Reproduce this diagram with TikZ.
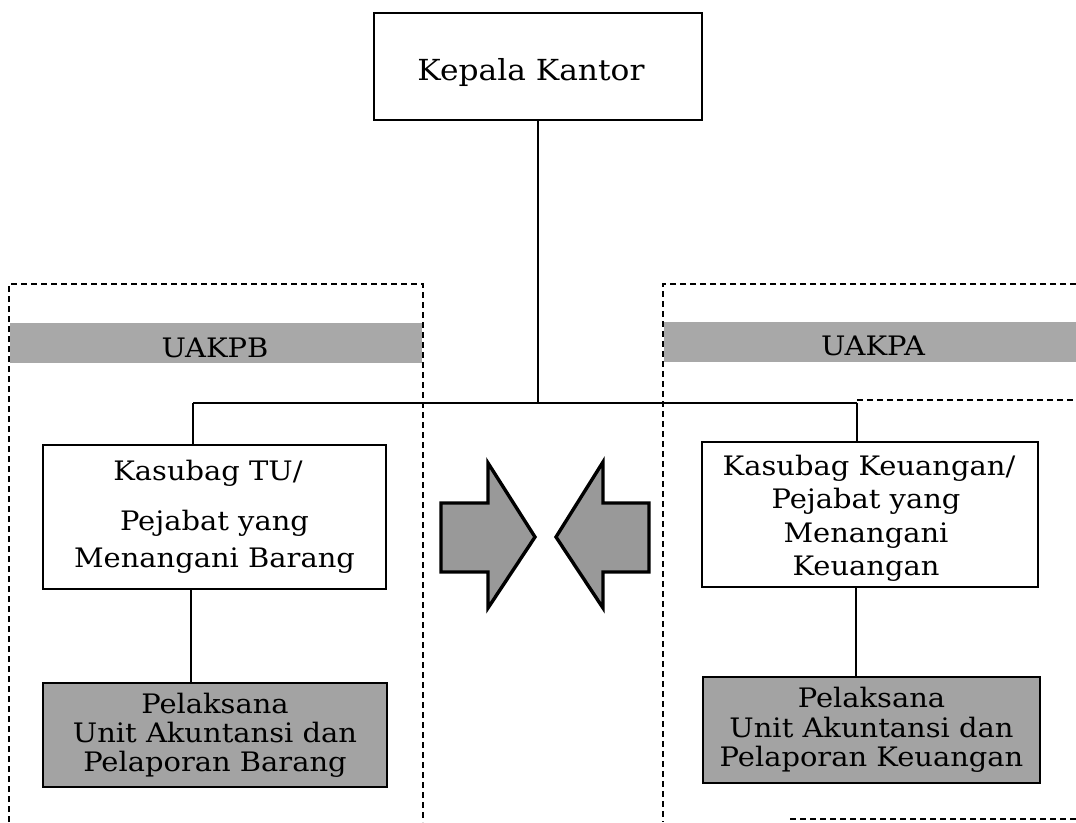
\documentclass[tikz,border=0pt]{standalone}
\usepackage{fontspec}
\setmainfont{DejaVu Serif}[FakeStretch=1.08]
\begin{document}
\begin{tikzpicture}[x=1pt,y=-1pt,
  box/.style={draw=black, line width=1.6pt, inner sep=0pt},
  graybox/.style={box, fill=black!36},
  txt/.style={anchor=base, inner sep=0pt, font=\fontsize{26.8}{30}\selectfont},
  conn/.style={line width=1.6pt},
  dsh/.style={line width=2pt, dash pattern=on 6pt off 4pt},
  band/.style={fill=black!34, draw=none},
  bigarrow/.style={fill=black!40, draw=black, line width=3.4pt, line join=miter}]
\useasboundingbox (0,0) rectangle (1076,822);
% dashed frames
\draw[dsh] (9,822) -- (9,284) -- (423,284) -- (423,822);
\draw[dsh] (1076,284) -- (663,284) -- (663,822);
\draw[dsh] (857,400) -- (1076,400);
\draw[dsh] (790,819) -- (1076,819);
% bands
\fill[band] (10,323) rectangle (422,363);
\fill[band] (664,322) rectangle (1076,362);
\node[txt] (uakpb) at (215,357) {UAKPB};
\node[txt] (uakpa) at (873,355) {UAKPA};
% boxes
\node[box, minimum width=328pt, minimum height=107pt] (kk) at (538,66.5) {};
\node[txt, font=\fontsize{29}{32}\selectfont] (kkt) at (531,80) {Kepala Kantor};
\node[box, fill=white, minimum width=343pt, minimum height=144pt] (kt) at (214.5,517) {};
\node[txt] (kt1) at (208,480) {Kasubag TU/};
\node[txt] (kt2) at (214.5,530) {Pejabat yang};
\node[txt] (kt3) at (214.5,567) {Menangani Barang};
\node[box, fill=white, minimum width=336pt, minimum height=145pt] (kr) at (870,514.5) {};
\node[txt] (kr1) at (869,475) {Kasubag Keuangan/};
\node[txt] (kr2) at (866,508) {Pejabat yang};
\node[txt] (kr3) at (866,542) {Menangani};
\node[txt] (kr4) at (866,575) {Keuangan};
\node[graybox, minimum width=344pt, minimum height=104pt] (pl) at (215,735) {};
\node[txt] (pl1) at (215,713) {Pelaksana};
\node[txt] (pl2) at (215,742) {Unit Akuntansi dan};
\node[txt] (pl3) at (215,771) {Pelaporan Barang};
\node[graybox, minimum width=337pt, minimum height=106pt] (pr) at (871.5,730) {};
\node[txt] (pr1) at (871.5,707) {Pelaksana};
\node[txt] (pr2) at (871.5,737) {Unit Akuntansi dan};
\node[txt] (pr3) at (871.5,766) {Pelaporan Keuangan};
% connectors
\coordinate (jc) at (538,403);
\coordinate (j1) at (193,403);
\coordinate (j2) at (857,403);
\draw[conn] (kk.south) -- (jc);
\draw[conn] (j1) -- (j2);
\draw[conn] (j1) -- (j1 |- kt.north);
\draw[conn] (j2) -- (j2 |- kr.north);
\draw[conn] (kt.south -| 191,0) -- (pl.north -| 191,0);
\draw[conn] (kr.south -| 856,0) -- (pr.north -| 856,0);
% arrows
\draw[bigarrow] (441,503) -- (488,503) -- (488,463) -- (535,537) -- (488,608) -- (488,572) -- (441,572) -- cycle;
\draw[bigarrow] (649,503) -- (603,503) -- (603,462) -- (556,537) -- (603,608) -- (603,572) -- (649,572) -- cycle;
\end{tikzpicture}
\end{document}
